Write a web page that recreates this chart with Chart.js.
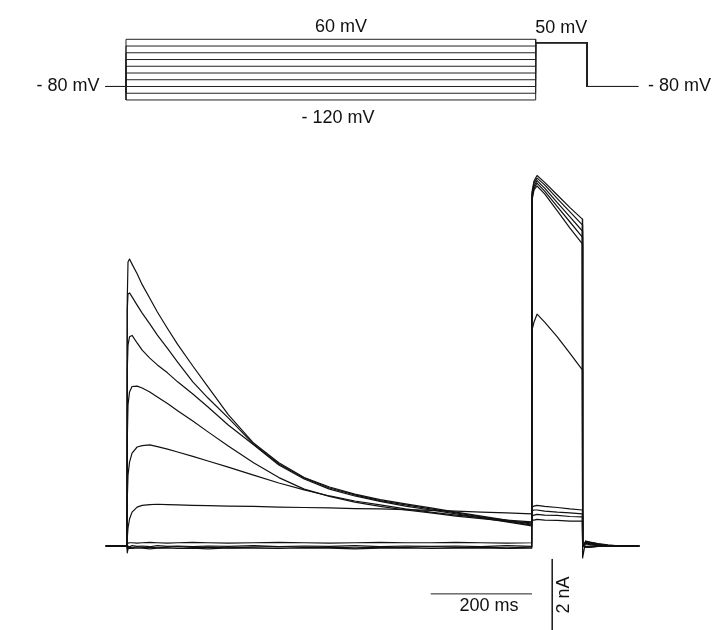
<!DOCTYPE html>
<html>
<head>
<meta charset="utf-8">
<title>Steady-state inactivation protocol</title>
<script src="https://cdn.jsdelivr.net/npm/chart.js@4.4.1/dist/chart.umd.min.js"></script>
<style>
  html, body { margin: 0; padding: 0; background: #fff; }
  canvas { display: block; }
</style>
</head>
<body>
<canvas id="traces" width="717" height="630"></canvas>
<script>
// voltage protocol (mV / ms)
const prepulseMv = [60, 40, 20, 0, -20, -40, -60, -80, -100, -120];
const holdingMv = -80;
const testMv = 50;
const protocolTimesMs = [-40, 0, 800, 900, 1000]; // hold, prepulse on, test on, test off, end

// sample times shared by every current sweep (ms, 0 = prepulse onset)
const sweepTimeMs = [-42, 0, 0.5, 2, 5, 10, 20, 30, 45, 60, 80, 100, 130, 160, 200, 250, 300, 350, 400, 450,
  500, 550, 600, 650, 700, 750, 799.5, 800, 804, 810, 825, 850, 875, 899.5, 900, 906, 915, 930, 950, 975, 1012];

// membrane current (nA), one sweep per prepulse
const current60 = [0, 0, 6.83, 7.89, 7.97, 7.83, 7.56, 7.26, 6.88, 6.50, 6.04, 5.60, 5.00, 4.42, 3.65, 2.86, 2.31, 1.90, 1.64, 1.44,
  1.29, 1.17, 1.06, 0.94, 0.83, 0.72, 0.61, 0.72, 0.72, 0.74, 0.72, 0.71, 0.69, 0.69, 0, -0.03, -0.03, -0.01, 0, 0, 0];
const current40 = [0, 0, 6.56, 7.00, 7.03, 6.92, 6.69, 6.47, 6.17, 5.86, 5.49, 5.11, 4.56, 4.11, 3.56, 2.83, 2.28, 1.89, 1.61, 1.42,
  1.26, 1.14, 1.03, 0.92, 0.81, 0.69, 0.58, 0.83, 0.86, 0.88, 0.86, 0.85, 0.82, 0.81, 0, -0.04, -0.03, -0.01, 0, 0, 0];
const current20 = [0, 0, 4.89, 5.58, 5.81, 5.85, 5.64, 5.44, 5.22, 5.03, 4.81, 4.56, 4.22, 3.86, 3.36, 2.81, 2.25, 1.86, 1.58, 1.39,
  1.24, 1.11, 1.00, 0.89, 0.78, 0.67, 0.56, 0.97, 1.00, 1.00, 0.97, 0.94, 0.92, 0.89, 0, -0.03, -0.02, 0, 0, 0, 0];
const current0 = [0, 0, 2.94, 3.92, 4.28, 4.43, 4.44, 4.39, 4.28, 4.14, 3.96, 3.76, 3.47, 3.17, 2.78, 2.31, 1.90, 1.58, 1.38, 1.22,
  1.10, 1.00, 0.92, 0.83, 0.76, 0.69, 0.64, 1.08, 1.11, 1.13, 1.10, 1.07, 1.03, 1.00, 0, -0.01, 0, 0, 0, 0, 0];
const currentM20 = [0, 0, 1.28, 1.97, 2.33, 2.58, 2.75, 2.79, 2.81, 2.76, 2.69, 2.61, 2.49, 2.36, 2.19, 1.97, 1.75, 1.56, 1.39, 1.25,
  1.14, 1.03, 0.94, 0.86, 0.79, 0.72, 0.67, 6.00, 6.22, 6.44, 6.22, 5.81, 5.35, 4.89, 0, 0.06, 0.04, 0.01, 0, 0, 0];
const currentM40 = [0, 0, 0.22, 0.50, 0.75, 0.94, 1.08, 1.13, 1.15, 1.16, 1.15, 1.14, 1.13, 1.12, 1.11, 1.10, 1.08, 1.07, 1.06, 1.04,
  1.03, 1.01, 0.99, 0.97, 0.94, 0.92, 0.89, 9.60, 9.89, 10.00, 9.78, 9.31, 8.83, 8.39, 0, 0.08, 0.06, 0.03, 0.01, 0, 0];
const currentM60 = [0, 0, 0.05, 0.08, 0.09, 0.09, 0.08, 0.09, 0.10, 0.09, 0.08, 0.09, 0.10, 0.09, 0.08, 0.09, 0.10, 0.09, 0.08, 0.09,
  0.10, 0.09, 0.09, 0.10, 0.09, 0.08, 0.09, 9.67, 9.94, 10.08, 9.86, 9.43, 9.00, 8.58, 0, 0.10, 0.07, 0.03, 0.01, 0, 0];
const currentM80 = [0, 0, -0.03, 0, -0.02, 0.01, -0.01, 0, -0.02, 0.01, -0.01, 0, -0.02, 0, -0.01, 0.01, -0.02, 0, -0.01, 0.01,
  -0.02, 0, -0.01, 0, -0.02, 0.01, -0.01, 9.72, 10.00, 10.15, 9.94, 9.54, 9.14, 8.75, 0, 0.11, 0.08, 0.04, 0.01, 0, 0];
const currentM100 = [0, 0, -0.08, -0.04, -0.03, -0.05, -0.02, -0.04, -0.03, -0.05, -0.03, -0.02, -0.04, -0.03, -0.05, -0.03, -0.02, -0.04, -0.03, -0.05,
  -0.03, -0.04, -0.02, -0.04, -0.03, -0.05, -0.03, 9.78, 10.08, 10.22, 10.03, 9.65, 9.28, 8.92, 0, 0.13, 0.10, 0.06, 0.01, 0, 0];
const currentM120 = [0, 0, -0.19, -0.08, -0.06, -0.07, -0.05, -0.06, -0.08, -0.06, -0.05, -0.07, -0.06, -0.08, -0.05, -0.06, -0.07, -0.05, -0.06, -0.08,
  -0.06, -0.05, -0.07, -0.06, -0.05, -0.07, -0.06, 9.83, 10.14, 10.29, 10.10, 9.75, 9.40, 9.08, -0.33, 0.14, 0.11, 0.07, 0.03, 0, 0];

// scale bars
const scaleBarMs = 200;
const scaleBarNa = 2;

const currentSweeps = [current60, current40, current20, current0, currentM20,
  currentM40, currentM60, currentM80, currentM100, currentM120];

const mvLabel = (v) => (v < 0 ? "- " + Math.abs(v) : String(v)) + " mV";

const ink = "#111";
const datasets = [];

// one protocol sweep per prepulse level; overlaid they give the familiar box
prepulseMv.forEach((v) => {
  const [t0, t1, t2, t3, t4] = protocolTimesMs;
  datasets.push({
    data: [
      { x: t0, y: holdingMv }, { x: t1, y: holdingMv }, { x: t1, y: v }, { x: t2, y: v },
      { x: t2, y: testMv }, { x: t3, y: testMv }, { x: t3, y: holdingMv }, { x: t4, y: holdingMv }
    ],
    xAxisID: "xV", yAxisID: "yV",
    borderColor: "#222", borderWidth: 1, tension: 0, pointRadius: 0
  });
});

// straight segments between samples keep the step edges vertical
currentSweeps.forEach((sweep) => {
  datasets.push({
    data: sweep.map((y, i) => ({ x: sweepTimeMs[i], y })),
    xAxisID: "x", yAxisID: "y",
    borderColor: ink, borderWidth: 1.2, borderJoinStyle: "round",
    tension: 0, pointRadius: 0
  });
});

// scale bars live in the current axes
const barEndMs = 800, barLevelNa = -1.33, barXMs = 840, barTopNa = -0.36;
datasets.push({
  data: [{ x: barEndMs - scaleBarMs, y: barLevelNa }, { x: barEndMs, y: barLevelNa }],
  xAxisID: "x", yAxisID: "y", borderColor: "#222", borderWidth: 1, pointRadius: 0
});
datasets.push({
  data: [{ x: barXMs, y: barTopNa }, { x: barXMs, y: barTopNa - scaleBarNa }],
  xAxisID: "x", yAxisID: "y", borderColor: "#222", borderWidth: 1, pointRadius: 0
});

const labels = {
  id: "labels",
  afterDatasetsDraw(chart) {
    const { ctx } = chart;
    const { x, y, xV, yV } = chart.scales;
    ctx.save();
    ctx.fillStyle = ink;
    ctx.font = '18px "Liberation Sans", Arial, sans-serif';
    ctx.textBaseline = "middle";

    ctx.textAlign = "center";
    ctx.fillText(mvLabel(prepulseMv[0]), xV.getPixelForValue(420), yV.getPixelForValue(60) - 12);
    ctx.fillText(mvLabel(prepulseMv[prepulseMv.length - 1]), xV.getPixelForValue(414), yV.getPixelForValue(-120) + 18);
    ctx.fillText(mvLabel(testMv), xV.getPixelForValue(850), yV.getPixelForValue(60) - 11);

    ctx.textAlign = "right";
    ctx.fillText(mvLabel(holdingMv), xV.getPixelForValue(protocolTimesMs[0]) - 6, yV.getPixelForValue(holdingMv));
    ctx.textAlign = "left";
    ctx.fillText(mvLabel(holdingMv), xV.getPixelForValue(protocolTimesMs[4]) + 10, yV.getPixelForValue(holdingMv));

    ctx.textAlign = "center";
    ctx.fillText(scaleBarMs + " ms", x.getPixelForValue(715), y.getPixelForValue(barLevelNa) + 12);

    ctx.translate(x.getPixelForValue(barXMs) + 12, y.getPixelForValue(barTopNa - 1));
    ctx.rotate(-Math.PI / 2);
    ctx.fillText(scaleBarNa + " nA", 0, 0);
    ctx.restore();
  }
};

new Chart(document.getElementById("traces"), {
  type: "line",
  data: { datasets },
  options: {
    responsive: false,
    animation: false,
    layout: { padding: 0 },
    plugins: { legend: { display: false }, tooltip: { enabled: false } },
    scales: {
      x: { type: "linear", axis: "x", display: false, min: -250.86, max: 1165.43 },
      y: { type: "linear", axis: "y", display: false, min: -2.3333, max: 15.1667 },
      xV: { type: "linear", axis: "x", display: false, min: -246.04, max: 1154.07 },
      yV: { type: "linear", axis: "y", display: false, min: -1691.8, max: 176.5 }
    }
  },
  plugins: [labels]
});
</script>
</body>
</html>
